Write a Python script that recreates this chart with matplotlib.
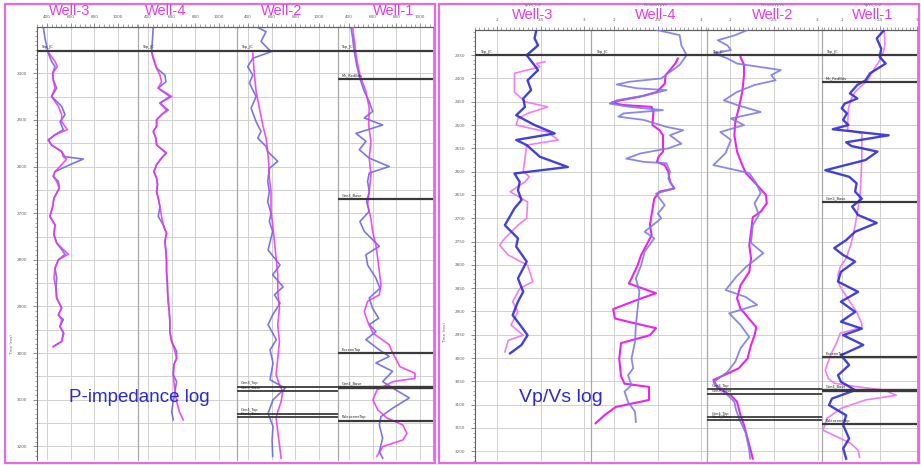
import matplotlib.pyplot as plt
from matplotlib.patches import Rectangle
from matplotlib.ticker import MultipleLocator
from matplotlib.transforms import blended_transform_factory

#-------------------#
# Data : P-impedance panel (left)
#-------------------#
wells = ["Well-3", "Well-4", "Well-2", "Well-1"]
ip_ticks = [400, 600, 800, 1000]
ip_tick_labels = ["400", "600", "800", "1000"]
ip_time_labels = [2400, 2500, 2600, 2700, 2800, 2900, 3000, 3100, 3200]
ip_grid_times = [2350, 2400, 2450, 2500, 2550, 2600, 2650, 2700, 2750, 2800,
                 2850, 2900, 2950, 3000, 3050, 3100, 3150, 3200]

# Well-3
t_w3_ip = [2300, 2325, 2357, 2375, 2386, 2400, 2414, 2432, 2450, 2471, 2489, 2504, 2521, 2532, 2543,
           2554, 2568, 2579, 2584, 2596, 2611, 2621, 2632, 2646, 2657, 2668, 2686, 2707, 2725, 2746,
           2764, 2778, 2788, 2800, 2818, 2839, 2861, 2882, 2903, 2918, 2928, 2943, 2957, 2975, 2986]
blue_w3_ip = [369, 383, 411, 439, 468, 448, 453, 482, 439, 524, 552, 510, 538, 468, 411,
              439, 524, 552, 707, 594, 468, 453, 496, 504, 482, 459, 448, 425, 468, 459,
              482, 524, 552, 496, 468, 482, 476, 482, 524, 496, 538, 510, 538, 524, 453]
mag_w3_ip = [417, 468, 487, 448, 453, 468, 439, 496, 524, 524, 572, 468, 411,
             439, 524, 538, 566, 524, 468, 453, 482, 504, 482, 459, 448, 425, 468, 459,
             482, 538, 580, 496, 468, 459, 476, 482, 524, 496, 524, 510, 543, 524, 453]

# Well-4
t_w4_ip = [2300, 2325, 2354, 2368, 2389, 2404, 2418, 2432, 2450, 2464, 2479, 2489, 2500, 2514, 2525,
           2539, 2554, 2571, 2582, 2596, 2611, 2625, 2639, 2654, 2668, 2686, 2707, 2725, 2743, 2761,
           2782, 2803, 2825, 2846, 2868, 2889, 2911, 2932, 2953, 2975, 2996, 3011, 3025, 3046, 3061,
           3082, 3103, 3125, 3143]
blue_w4_ip = [445, 439, 431, 445, 473, 543, 552, 487, 585, 501, 571, 515, 473, 473, 445,
              467, 473, 557, 515, 473, 450, 473, 481, 473, 487, 501, 487, 529, 557, 543,
              552, 557, 557, 563, 566, 571, 580, 585, 585, 600, 642, 642, 619, 614, 642,
              628, 614, 600, 614]
mag_w4_ip = [431, 445, 473, 501, 515, 487, 600, 501, 557, 515, 473, 473, 445,
             467, 473, 552, 515, 473, 450, 473, 481, 473, 487, 501, 515, 529, 557, 543,
             552, 557, 557, 563, 566, 571, 580, 585, 585, 600, 628, 642, 619, 614, 619,
             628, 642, 664, 698]

# Well-2
t_w2_ip_blue = [2300, 2311, 2332, 2354, 2368, 2386, 2404, 2421, 2450, 2475, 2504, 2525, 2539, 2557,
                2568, 2589, 2604, 2632, 2654, 2675, 2700, 2718, 2739, 2779, 2811, 2832, 2858, 2875,
                2893, 2918, 2939, 2971, 2993, 3021, 3057, 3075, 3100, 3129, 3157, 3186, 3221]
blue_w2_ip = [468, 552, 510, 594, 440, 397, 440, 412, 468, 426, 468, 510, 482, 552,
              566, 651, 580, 566, 580, 566, 594, 580, 608, 569, 670, 608, 696, 623,
              670, 608, 569, 639, 586, 611, 586, 713, 611, 569, 611, 603, 608]
t_w2_ip_mag = [2357, 2404, 2439, 2475, 2511, 2539, 2568, 2596, 2625, 2654, 2696, 2725, 2761, 2796,
               2832, 2868, 2904, 2939, 2975, 3011, 3046, 3068, 3082, 3104, 3125, 3139, 3168, 3196, 3225]
mag_w2_ip = [440, 454, 468, 496, 524, 552, 566, 575, 580, 594, 594, 608, 623, 637,
             651, 651, 665, 651, 665, 651, 637, 665, 693, 679, 651, 637, 651, 665, 679]

# Well-1
t_w1_ip_blue = [2300, 2325, 2354, 2382, 2411, 2439, 2461, 2482, 2496, 2511, 2529, 2546, 2564, 2582,
                2600, 2614, 2632, 2654, 2675, 2696, 2718, 2739, 2771, 2789, 2811, 2839, 2861, 2882,
                2904, 2925, 2939, 2954, 2971, 2993, 3007, 3021, 3039, 3061, 3079, 3096, 3118, 3136,
                3154, 3182, 3211, 3225]
blue_w1_ip = [416, 431, 445, 464, 492, 529, 571, 599, 529, 684, 459, 543, 487, 571,
              740, 571, 557, 571, 549, 571, 492, 529, 656, 543, 557, 627, 661, 571,
              599, 650, 571, 627, 543, 656, 740, 627, 768, 684, 796, 909, 768, 670,
              656, 684, 656, 684]
t_w1_ip_mag = [2300, 2332, 2368, 2404, 2439, 2475, 2511, 2546, 2582, 2618, 2654, 2682, 2711, 2739,
               2768, 2796, 2825, 2854, 2875, 2889, 2911, 2932, 2957, 2982, 2996, 3029, 3043, 3054,
               3061, 3079, 3100, 3122, 3139, 3154, 3172, 3186, 3200, 3221]
mag_w1_ip = [431, 445, 464, 492, 543, 571, 566, 585, 571, 585, 571, 557, 585, 599,
             627, 642, 656, 670, 656, 557, 529, 557, 602, 740, 762, 830, 957, 957,
             771, 636, 602, 644, 720, 855, 889, 855, 687, 636]

#-------------------#
# Data : Vp/Vs panel (right)
#-------------------#
vv_ticks = [2, 2.5, 3]
vv_tick_labels = ["2", "2.5", "3"]
vv_time_labels = [2350, 2400, 2450, 2500, 2550, 2600, 2650, 2700, 2750, 2800,
                  2850, 2900, 2950, 3000, 3050, 3100, 3150, 3200]
vv_curve_names = ["VpVs_Cal", "PseudoVpVs", "PseudoVpVs", "VpVs_Cal"]

t_w3_vv_blue = [2296, 2314, 2329, 2350, 2382, 2404, 2425, 2443, 2461, 2479, 2500, 2518, 2532, 2543,
                2568, 2590, 2604, 2622, 2640, 2661, 2679, 2715, 2743, 2761, 2793, 2829, 2858, 2879,
                2908, 2933, 2951, 2972, 2990]
blue_w3_vv = [2.45, 2.43, 2.47, 2.34, 2.47, 2.35, 2.39, 2.30, 2.32, 2.22, 2.43, 2.66, 2.22, 2.34,
              2.49, 2.81, 2.20, 2.26, 2.24, 2.28, 2.20, 2.09, 2.24, 2.22, 2.34, 2.24, 2.30, 2.24,
              2.18, 2.28, 2.35, 2.28, 2.15]
t_w3_vv_mag = [2364, 2368, 2375, 2389, 2429, 2450, 2461, 2475, 2486, 2500, 2515, 2532, 2543, 2572,
               2600, 2611, 2622, 2643, 2665, 2700, 2715, 2743, 2758, 2779, 2801, 2836, 2851, 2879,
               2901, 2929, 2951, 2962, 2987]
mag_w3_vv = [2.55, 2.45, 2.49, 2.20, 2.20, 2.32, 2.58, 2.35, 2.24, 2.22, 2.58, 2.70, 2.34, 2.32,
             2.30, 2.37, 2.32, 2.15, 2.35, 2.34, 2.24, 2.09, 2.03, 2.13, 2.35, 2.41, 2.26, 2.18,
             2.24, 2.16, 2.30, 2.13, 2.09]

t_w4_vv_blue = [2296, 2307, 2329, 2350, 2371, 2386, 2400, 2407, 2413, 2421, 2425, 2436, 2447, 2454,
                2461, 2468, 2475, 2482, 2489, 2504, 2511, 2522, 2540, 2550, 2561, 2572, 2579, 2582,
                2600, 2615, 2636, 2647, 2672, 2690, 2700, 2729, 2743, 2772, 2801, 2829, 2858, 2894,
                2929, 2965, 3001, 3022, 3037, 3058, 3072, 3094, 3115, 3137]
blue_w4_vv = [2.49, 2.75, 2.77, 2.83, 2.75, 2.64, 2.54, 2.18, 2.03, 2.26, 2.60, 2.37, 2.03, 1.95,
              2.18, 2.56, 2.11, 2.05, 2.34, 2.60, 2.79, 2.64, 2.77, 2.62, 2.30, 2.14, 2.34, 2.60,
              2.64, 2.62, 2.69, 2.48, 2.58, 2.50, 2.54, 2.35, 2.46, 2.35, 2.31, 2.25, 2.29, 2.27,
              2.25, 2.24, 2.20, 2.22, 2.16, 2.20, 2.12, 2.16, 2.24, 2.25]
t_w4_vv_mag = [2357, 2368, 2382, 2393, 2411, 2429, 2439, 2447, 2452, 2457, 2461, 2472, 2500, 2511,
               2522, 2557, 2568, 2579, 2586, 2600, 2622, 2636, 2643, 2658, 2715, 2736, 2758, 2779,
               2801, 2829, 2840, 2861, 2872, 2895, 2915, 2922, 2936, 2951, 2968, 3001, 3039, 3055,
               3062, 3090, 3105, 3123, 3140]
mag_w4_vv = [2.73, 2.70, 2.64, 2.59, 2.58, 2.49, 2.30, 2.07, 1.97, 2.11, 2.43, 2.45, 2.44, 2.52,
             2.56, 2.56, 2.51, 2.49, 2.58, 2.62, 2.64, 2.69, 2.52, 2.46, 2.41, 2.43, 2.37, 2.31,
             2.27, 2.20, 2.17, 2.48, 2.31, 1.99, 2.01, 2.16, 2.48, 2.41, 2.08, 2.06, 2.08, 2.12,
             2.40, 2.40, 2.02, 1.89, 1.79]

t_w2_vv_blue = [2296, 2307, 2318, 2329, 2339, 2346, 2357, 2368, 2382, 2393, 2404, 2414, 2429, 2447,
                2457, 2472, 2486, 2500, 2515, 2532, 2560, 2586, 2603, 2625, 2646, 2668, 2693, 2715,
                2753, 2775, 2805, 2826, 2854, 2869, 2886, 2904, 2929, 2955, 2979, 3008, 3030, 3052,
                3072, 3094, 3112, 3137, 3161, 3198, 3216]
blue_w2_vv = [2.20, 2.06, 1.86, 1.97, 2.01, 1.82, 1.97, 2.08, 2.58, 2.47, 2.52, 2.28, 2.08, 1.93,
              2.08, 2.35, 2.01, 2.16, 1.89, 2.01, 1.95, 1.81, 2.22, 2.30, 2.35, 2.28, 2.33, 2.26,
              2.24, 2.38, 2.18, 2.07, 1.95, 2.18, 2.31, 1.99, 2.12, 2.22, 2.12, 2.06, 1.97, 1.81,
              1.93, 2.05, 2.07, 2.12, 2.18, 2.22, 2.23]
t_w2_vv_mag = [2354, 2371, 2393, 2429, 2464, 2493, 2522, 2557, 2586, 2603, 2629, 2650, 2668, 2686,
               2698, 2729, 2758, 2786, 2815, 2844, 2872, 2894, 2934, 2951, 2972, 3001, 3022, 3037,
               3047, 3065, 3080, 3094, 3123, 3144, 3173, 3201, 3216]
mag_w2_vv = [2.12, 2.16, 2.16, 2.14, 2.10, 2.06, 2.05, 2.08, 2.14, 2.18, 2.31, 2.41, 2.42, 2.35,
             2.26, 2.24, 2.22, 2.24, 2.22, 2.12, 2.08, 2.12, 2.30, 2.28, 2.24, 2.20, 2.10, 1.93,
             1.81, 1.86, 2.01, 2.08, 2.12, 2.16, 2.20, 2.24, 2.26]

t_w1_vv_blue = [2296, 2314, 2336, 2354, 2368, 2389, 2404, 2414, 2432, 2443, 2454, 2464, 2475, 2489,
                2500, 2509, 2522, 2537, 2545, 2557, 2575, 2597, 2611, 2625, 2643, 2658, 2675, 2693,
                2710, 2729, 2747, 2764, 2779, 2793, 2815, 2836, 2858, 2879, 2901, 2922, 2937, 2951,
                2972, 2994, 3015, 3037, 3051, 3069, 3087, 3101, 3123, 3144, 3173, 3194, 3216]
blue_w1_vv = [2.56, 2.46, 2.52, 2.50, 2.58, 2.37, 2.31, 2.20, 2.10, 2.20, 2.03, 1.99, 2.06, 2.01,
              2.08, 1.87, 2.62, 2.05, 2.12, 2.47, 2.31, 1.77, 2.09, 2.19, 2.17, 2.26, 2.13, 2.21,
              2.46, 2.17, 2.05, 1.89, 2.01, 2.17, 1.98, 1.94, 2.21, 1.98, 2.17, 1.98, 2.26, 2.01,
              2.28, 1.98, 2.09, 1.94, 1.98, 2.17, 1.86, 1.82, 2.05, 2.01, 2.09, 2.01, 2.05]
t_w1_vv_mag = [2296, 2329, 2343, 2364, 2386, 2404, 2418, 2429, 2443, 2464, 2500, 2511, 2518, 2572,
               2608, 2643, 2679, 2715, 2732, 2758, 2786, 2805, 2822, 2844, 2872, 2901, 2926, 2934,
               2947, 2968, 2994, 3026, 3044, 3054, 3062, 3069, 3080, 3090, 3108, 3130, 3155, 3173,
               3183, 3198, 3213]
mag_w1_vv = [2.56, 2.57, 2.55, 2.49, 2.40, 2.34, 2.24, 2.17, 2.12, 2.08, 2.07, 2.07, 2.26, 2.26,
             2.25, 2.24, 2.21, 2.17, 2.15, 2.11, 2.05, 1.97, 1.94, 1.96, 2.07, 2.19, 2.26, 2.26,
             1.97, 1.92, 1.84, 1.77, 1.81, 1.89, 2.21, 2.57, 2.72, 2.31, 1.98, 1.79, 1.74, 1.98,
             2.11, 2.21, 2.23]

#-------------------#
# Horizons (name, time)
#-------------------#
hz_top_ip = 2352
hz_top_vv = 2350
hz_w1_names = ["Mn_RedBds", "Gen3_Base", "EoceneTop", "Gen4_Base", "PaleoceneTop"]
hz_w1_ip = [2412, 2669, 3000, 3072, 3145]
hz_w1_vv = [2408, 2665, 2998, 3069, 3142]
hz_w2_names = ["Gen3_Top", "Gen3_Base", "Gen4_Top", "Gen4_Base"]
hz_w2_ip = [3072, 3081, 3130, 3137]
hz_w2_vv = [3067, 3077, 3127, 3133]

#-------------------#
# Styles
#-------------------#
W, H = 921, 465
pink = '#e46be4'
title_c = '#e33de3'
grid_c = '#d0d0d0'
hz_c = '#3a3a3a'
axis_c = '#606060'
text_blue = '#2a2ad0'
title_font = ['Liberation Sans Narrow', 'Liberation Sans', 'DejaVu Sans']

fig = plt.figure(figsize=(W / 100, H / 100), dpi=100)


def px_axes(x0, y0, x1, y1):
	return fig.add_axes([x0 / W, 1 - y1 / H, (x1 - x0) / W, (y1 - y0) / H])


def make_track(box, xlim, ylim, xticks, xlabels, minor_x, grid_t, first, ylabels=None):
	ax = px_axes(*box)
	ax.set_xlim(*xlim)
	ax.set_ylim(*ylim)
	for t in grid_t:
		ax.axhline(t, color=grid_c, lw=0.7, zorder=0)
	for x in xticks:
		ax.axvline(x, color=grid_c, lw=0.7, zorder=0)
	ax.xaxis.tick_top()
	ax.set_xticks(xticks)
	ax.set_xticklabels(xlabels, fontsize=3.0, color='#666666')
	ax.xaxis.set_minor_locator(MultipleLocator(minor_x))
	ax.tick_params(axis='x', which='major', direction='out', length=3, width=0.5, pad=2.5, colors=axis_c)
	ax.tick_params(axis='x', which='minor', direction='out', length=2, width=0.4, colors=axis_c)
	if first:
		ax.set_yticks(ylabels)
		ax.set_yticklabels([str(v) for v in ylabels], fontsize=3.0, color='#666666')
		ax.yaxis.set_minor_locator(MultipleLocator(10))
		ax.tick_params(axis='y', which='major', length=3, width=0.5, pad=4, colors=axis_c)
		ax.tick_params(axis='y', which='minor', length=1.8, width=0.4, colors=axis_c)
	else:
		ax.tick_params(axis='y', which='both', left=False, labelleft=False)
	ax.spines['bottom'].set_visible(False)
	ax.spines['top'].set_color(axis_c)
	ax.spines['top'].set_linewidth(0.9)
	ax.spines['left'].set_color(axis_c if first else '#a8a8a8')
	ax.spines['left'].set_linewidth(0.8)
	ax.spines['right'].set_color('#a8a8a8')
	ax.spines['right'].set_linewidth(0.8)
	ax.patch.set_alpha(0)
	return ax


def horizon(ax, t, name, lw=1.6):
	ax.axhline(t, color=hz_c, lw=lw, zorder=4)
	tr = blended_transform_factory(ax.transAxes, ax.transData)
	ax.text(0.04, t - 3, name, transform=tr, fontsize=2.6, color='#222222', va='bottom', zorder=5)


#-------------------#
# Left panel : P-impedance
#-------------------#
ip_boxes = [(37, 27, 138, 460), (138, 27, 237, 460), (237, 27, 337.5, 460), (337.5, 27, 433, 460)]
ip_xlims = [(316, 1168), (316, 1152), (307, 1155), (303, 1109)]
ip_ylim = (3229, 2301)
ip_curves = [
	(t_w3_ip, blue_w3_ip, t_w3_ip[2:], mag_w3_ip),
	(t_w4_ip, blue_w4_ip, t_w4_ip[2:], mag_w4_ip),
	(t_w2_ip_blue, blue_w2_ip, t_w2_ip_mag, mag_w2_ip),
	(t_w1_ip_blue, blue_w1_ip, t_w1_ip_mag, mag_w1_ip),
]
ip_axes = []
for i in range(4):
	ax = make_track(ip_boxes[i], ip_xlims[i], ip_ylim, ip_ticks, ip_tick_labels, 40,
	                ip_grid_times, i == 0, ip_time_labels)
	tb, vb, tm, vm = ip_curves[i]
	ax.plot(vb, tb, color='#6868ea', lw=1.2, alpha=0.9, solid_joinstyle='round', zorder=2)
	ax.plot(vm, tm, color='#f030f0', lw=1.2, alpha=0.85, solid_joinstyle='round', zorder=3)
	horizon(ax, hz_top_ip, "Top_JC")
	ip_axes.append(ax)

for name, t in zip(hz_w1_names, hz_w1_ip):
	horizon(ip_axes[3], t, name, lw=2.4 if name == "Gen4_Base" else 1.6)
for name, t in zip(hz_w2_names, hz_w2_ip):
	horizon(ip_axes[2], t, name, lw=1.3)

#-------------------#
# Right panel : Vp/Vs
#-------------------#
vv_boxes = [(475, 30, 591, 461), (591, 30, 707, 461), (707, 30, 822, 461), (822, 30, 917, 461)]
vv_xlims = [(1.749, 3.075), (1.737, 3.063), (1.737, 3.051), (1.726, 2.812)]
vv_ylim = (3221, 2296)
vv_curves = [
	(t_w3_vv_blue, blue_w3_vv, t_w3_vv_mag, mag_w3_vv),
	(t_w4_vv_blue, blue_w4_vv, t_w4_vv_mag, mag_w4_vv),
	(t_w2_vv_blue, blue_w2_vv, t_w2_vv_mag, mag_w2_vv),
	(t_w1_vv_blue, blue_w1_vv, t_w1_vv_mag, mag_w1_vv),
]
vv_blue_style = [('#2c2cd8', 1.7), ('#7b7bec', 1.3), ('#7b7bec', 1.3), ('#2c2cd8', 1.7)]
vv_mag_style = [('#f47cf4', 1.2), ('#ee22ee', 1.5), ('#ee22ee', 1.5), ('#f47cf4', 1.2)]
vv_axes = []
for i in range(4):
	ax = make_track(vv_boxes[i], vv_xlims[i], vv_ylim, vv_ticks, vv_tick_labels, 0.05,
	                vv_time_labels, i == 0, vv_time_labels)
	tb, vb, tm, vm = vv_curves[i]
	ax.plot(vm, tm, color=vv_mag_style[i][0], lw=vv_mag_style[i][1], solid_joinstyle='round', zorder=2)
	ax.plot(vb, tb, color=vv_blue_style[i][0], lw=vv_blue_style[i][1], alpha=0.9,
	        solid_joinstyle='round', zorder=3)
	horizon(ax, hz_top_vv, "Top_JC")
	vv_axes.append(ax)

for name, t in zip(hz_w1_names, hz_w1_vv):
	horizon(vv_axes[3], t, name, lw=2.4 if name == "Gen4_Base" else 1.6)
for name, t in zip(hz_w2_names, hz_w2_vv):
	horizon(vv_axes[2], t, name, lw=1.3)

#-------------------#
# Titles, labels, borders
#-------------------#
ip_title_x = [70, 166, 282, 394]
vv_title_x = [533, 656, 773, 873]
for i in range(4):
	fig.text(ip_title_x[i] / W, 1 - 11 / H, wells[i], color=title_c, fontsize=10.5,
	         ha='center', va='center', family=title_font)
	fig.text(vv_title_x[i] / W, 1 - 15 / H, wells[i], color=title_c, fontsize=10.5,
	         ha='center', va='center', family=title_font)
	fig.text(vv_title_x[i] / W, 1 - 5 / H, vv_curve_names[i], color='#777777', fontsize=2.8,
	         ha='center', va='center')

fig.text(139 / W, 1 - 397 / H, "P-impedance log", color=text_blue, fontsize=13.5,
         ha='center', va='center', family=['Liberation Sans', 'DejaVu Sans'])
fig.text(561 / W, 1 - 397 / H, "Vp/Vs log", color=text_blue, fontsize=14,
         ha='center', va='center', family=['Liberation Sans', 'DejaVu Sans'])

fig.text(12 / W, 1 - 345 / H, "Time (ms)", rotation=90, fontsize=3, color='#666666',
         ha='center', va='center')
fig.text(445 / W, 1 - 333 / H, "Time (ms)", rotation=90, fontsize=3, color='#666666',
         ha='center', va='center')

for x0, y0, x1, y1 in [(5, 4, 435, 463), (439, 4, 919, 463)]:
	fig.add_artist(Rectangle((x0 / W, 1 - y1 / H), (x1 - x0) / W, (y1 - y0) / H,
	                         transform=fig.transFigure, fill=False, ec=pink, lw=1.6))

fig.savefig("out.png", dpi=100)
